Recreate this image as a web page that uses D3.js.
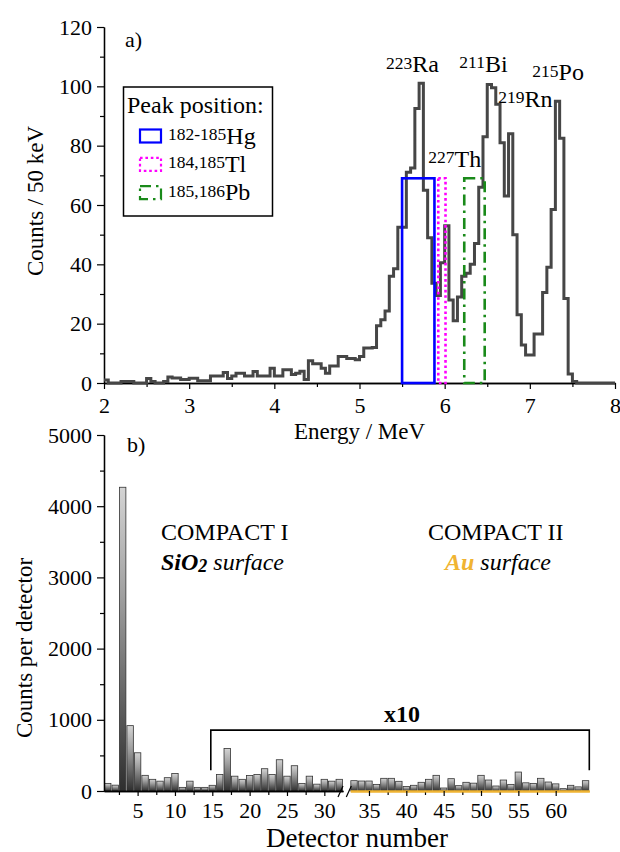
<!DOCTYPE html>
<html>
<head>
<meta charset="utf-8">
<script src="https://cdn.jsdelivr.net/npm/d3@7"></script>
<style>
  body { margin: 0; background: #fff; }
  svg { font-family: "Liberation Serif", "Times New Roman", serif; }
</style>
</head>
<body>
<div id="chart"></div>
<script>
// ---------- data: panel a) alpha spectrum, 50 keV bins from 2 MeV ----------
const binStart = 2;
const binWidth = 0.05;
const spectrumCounts = [
  1, 0, 0, 0, 0.5, 0.5, 0.5, 0, 0, 0,
  1.5, 0.5, 0, 0, 0.5, 2, 1.7, 1.7, 1.2, 1.2,
  1.6, 1.6, 0.8, 0.8, 0.8, 2.4, 2.4, 2.4, 3.5, 1.5,
  2.4, 3.3, 3.3, 2.4, 2.4, 3.9, 2.4, 2.4, 2.4, 5,
  2.4, 2.4, 4.5, 4.5, 2.9, 3.3, 4, 1.2, 7.5, 6.5,
  6.5, 5, 3.3, 5.7, 5.7, 8.9, 8.9, 8.3, 8.3, 7.8,
  8.9, 11.8, 11.8, 12, 19.3, 21.3, 24.3, 36, 38.5, 52.5,
  52.5, 71, 72.5, 92.5, 101, 65, 49, 33.6, 29.5, 40.5,
  53, 28, 21, 29, 36, 37, 40, 47, 66, 83,
  100.6, 99.5, 94, 81, 63, 84, 50, 23, 12.8, 9.4,
  9.4, 16.5, 16.5, 30.5, 39, 58.5, 95, 82.5, 28.5, 3,
  0.5, 0, 0, 0, 0, 0, 0, 0, 0, 0
];

// peak position windows (MeV) and their height in counts
const windowNames = ["Hg", "Tl", "Pb"];
const windowMass = ["182-185", "184,185", "185,186"];
const windowLo = [5.5, 5.925, 6.23];
const windowHi = [5.88, 6.01, 6.47];
const windowTop = 69;

// peak labels: mass, element, anchor energy (MeV), anchor counts (baseline)
const peakMass = ["223", "211", "215", "219", "227"];
const peakElem = ["Ra", "Bi", "Po", "Rn", "Th"];
const peakE = [5.31, 6.172, 7.029, 6.63, 5.808];
const peakC = [104.8, 104.9, 102.1, 93.1, 72.9];

// axis ticks
const energyTicks = [2, 3, 4, 5, 6, 7, 8];
const energyMinor = [2.5, 3.5, 4.5, 5.5, 6.5, 7.5];
const countTicks = [0, 20, 40, 60, 80, 100, 120];
const countMinor = [10, 30, 50, 70, 90, 110];

// ---------- data: panel b) counts per detector (det. 15-64 shown x10) ----------
const detectorsI = d3.range(1, 33);
const countsI = [107, 82, 4266, 918, 537, 220, 164, 138, 187, 245, 51, 138, 51, 51, 80, 232,
                 598, 208, 164, 218, 232, 313, 232, 439, 208, 355, 107, 208, 96, 164, 138, 164];
const detectorsII = d3.range(33, 65);
const countsII = [145, 140, 140, 93, 178, 178, 136, 63, 80, 122, 164, 220, 42, 173, 75, 122,
                  110, 220, 154, 70, 154, 93, 266, 115, 107, 178, 126, 100, 33, 80, 58, 145];
const detTicksI = [5, 10, 15, 20, 25, 30];
const detMinorI = [2.5, 7.5, 12.5, 17.5, 22.5, 27.5];
const detTicksII = [35, 40, 45, 50, 55, 60];
const detMinorII = [37.5, 42.5, 47.5, 52.5, 57.5];
const perDetTicks = [0, 1000, 2000, 3000, 4000, 5000];
const perDetMinor = [500, 1500, 2500, 3500, 4500];
const scaledFrom = 14.8, scaledTo = 64.5;   // "x10" bracket span (detector units)
const bracketLevel = 855, bracketFoot = 290;

const FONT = "'Liberation Serif', 'Times New Roman', serif";
const GOLD = "#f0b432";
const fmt = d3.format("d");

const svg = d3.select("#chart").append("svg")
  .attr("width", 620)
  .attr("height", 852);

function styleAxis(g, size) {
  g.attr("font-family", FONT).attr("font-size", size);
  g.selectAll("path.domain").attr("stroke", "#000").attr("stroke-width", 1.3);
  g.selectAll(".tick line").attr("stroke", "#000").attr("stroke-width", 1.2);
  g.selectAll(".tick text").attr("fill", "#000");
}

// ================= panel a =================
const xE = d3.scaleLinear().domain([2, 8]).range([104, 615]);
const yC = d3.scaleLinear().domain([0, 120]).range([383, 27]);

const a = svg.append("g");

a.append("g").attr("transform", "translate(0,383)")
  .call(d3.axisBottom(xE).tickValues(energyMinor).tickSize(4).tickFormat("").tickSizeOuter(0))
  .call(g => styleAxis(g, 22));
a.append("g").attr("transform", "translate(0,383)")
  .call(d3.axisBottom(xE).tickValues(energyTicks).tickFormat(fmt).tickSize(6).tickPadding(8).tickSizeOuter(0))
  .call(g => styleAxis(g, 22));
a.append("g").attr("transform", "translate(104,0)")
  .call(d3.axisLeft(yC).tickValues(countMinor).tickSize(4).tickFormat("").tickSizeOuter(0))
  .call(g => styleAxis(g, 22));
a.append("g").attr("transform", "translate(104,0)")
  .call(d3.axisLeft(yC).tickValues(countTicks).tickFormat(fmt).tickSize(7).tickPadding(5).tickSizeOuter(0))
  .call(g => styleAxis(g, 22));

// histogram
const steps = spectrumCounts.map((c, i) => ({ e: binStart + i * binWidth, c }));
steps.push({ e: binStart + spectrumCounts.length * binWidth, c: spectrumCounts[spectrumCounts.length - 1] });
const stepLine = d3.line().curve(d3.curveStepAfter).x(d => xE(d.e)).y(d => yC(d.c));
a.append("path")
  .attr("d", stepLine(steps))
  .attr("fill", "none")
  .attr("stroke", "#464646")
  .attr("stroke-width", 3)
  .attr("stroke-linejoin", "miter");

// peak position windows
const winStyle = [
  { stroke: "#0000ff", dash: null },
  { stroke: "#ff00ff", dash: "2.6,2.8" },
  { stroke: "#1a8a1a", dash: "11,5,2.5,5" }
];
windowNames.forEach((n, i) => {
  a.append("rect")
    .attr("x", xE(windowLo[i]))
    .attr("y", yC(windowTop))
    .attr("width", xE(windowHi[i]) - xE(windowLo[i]))
    .attr("height", yC(0) - yC(windowTop))
    .attr("fill", "none")
    .attr("stroke", winStyle[i].stroke)
    .attr("stroke-width", 2.6)
    .attr("stroke-dasharray", winStyle[i].dash);
});

// peak labels
peakMass.forEach((m, i) => {
  const t = a.append("text")
    .attr("x", xE(peakE[i]))
    .attr("y", yC(peakC[i]))
    .attr("font-size", 24);
  t.append("tspan").attr("font-size", 17.5).attr("dy", -3.5).text(m);
  t.append("tspan").attr("dy", 3.5).text(peakElem[i]);
});

a.append("text").attr("x", 125).attr("y", 47).attr("font-size", 22).text("a)");

// axis titles
a.append("text")
  .attr("x", (xE(2) + xE(8)) / 2).attr("y", 439)
  .attr("text-anchor", "middle").attr("font-size", 23)
  .text("Energy / MeV");
a.append("text")
  .attr("transform", "translate(43,201) rotate(-90)")
  .attr("text-anchor", "middle").attr("font-size", 23)
  .text("Counts / 50 keV");

// legend
const leg = a.append("g");
leg.append("rect")
  .attr("x", 123.5).attr("y", 87).attr("width", 149).attr("height", 129)
  .attr("fill", "#fff").attr("stroke", "#000").attr("stroke-width", 1.5);
leg.append("text").attr("x", 127).attr("y", 113).attr("font-size", 24).text("Peak position:");
windowNames.forEach((n, i) => {
  const by = 143.5 + i * 28.3;
  leg.append("rect")
    .attr("x", 140).attr("y", by - 14).attr("width", 21).attr("height", 13)
    .attr("fill", "none")
    .attr("stroke", winStyle[i].stroke)
    .attr("stroke-width", 2.2)
    .attr("stroke-dasharray", winStyle[i].dash);
  const t = leg.append("text").attr("x", 168).attr("y", by).attr("font-size", 24);
  t.append("tspan").attr("font-size", 17.5).attr("dy", -3.5).text(windowMass[i]);
  t.append("tspan").attr("dy", 3.5).text(n);
});

// ================= panel b =================
const yD = d3.scaleLinear().domain([0, 5000]).range([791, 435]);
const xI = d3.scaleLinear().domain([0.5, 32.5]).range([104, 343]);
const xII = d3.scaleLinear().domain([32.5, 64.5]).range([350.3, 589.3]);
const slot = xI(1.5) - xI(0.5);
const barW = slot * 0.86;

const b = svg.append("g");

const defs = svg.append("defs");
const grad = defs.append("linearGradient")
  .attr("id", "barGrad").attr("x1", 0).attr("y1", 0).attr("x2", 0).attr("y2", 1);
grad.append("stop").attr("offset", "0%").attr("stop-color", "#d4d4d4");
grad.append("stop").attr("offset", "35%").attr("stop-color", "#a0a0a0");
grad.append("stop").attr("offset", "100%").attr("stop-color", "#2e2e2e");

function drawBars(dets, vals, x) {
  b.append("g").selectAll("rect")
    .data(dets.map((d, i) => ({ d, v: vals[i] })))
    .join("rect")
      .attr("x", d => x(d.d) - barW / 2)
      .attr("y", d => yD(d.v))
      .attr("width", barW)
      .attr("height", d => yD(0) - yD(d.v))
      .attr("fill", "url(#barGrad)")
      .attr("stroke", "#333")
      .attr("stroke-width", 0.8);
}
drawBars(detectorsI, countsI, xI);
drawBars(detectorsII, countsII, xII);

// axes
b.append("g").attr("transform", "translate(0,791)")
  .call(d3.axisBottom(xI).tickValues(detMinorI).tickSize(4).tickFormat("").tickSizeOuter(0))
  .call(g => styleAxis(g, 22));
b.append("g").attr("transform", "translate(0,791)")
  .call(d3.axisBottom(xI).tickValues(detTicksI).tickFormat(fmt).tickSize(5).tickPadding(6).tickSizeOuter(0))
  .call(g => styleAxis(g, 22));
b.append("g").attr("transform", "translate(0,791)")
  .call(d3.axisBottom(xII).tickValues(detMinorII).tickSize(4).tickFormat("").tickSizeOuter(0))
  .call(g => styleAxis(g, 22))
  .call(g => g.select("path.domain").attr("stroke", GOLD).attr("stroke-width", 2.2));
b.append("g").attr("transform", "translate(0,791)")
  .call(d3.axisBottom(xII).tickValues(detTicksII).tickFormat(fmt).tickSize(5).tickPadding(6).tickSizeOuter(0))
  .call(g => styleAxis(g, 22))
  .call(g => g.select("path.domain").attr("stroke", GOLD).attr("stroke-width", 2.2));
b.append("g").attr("transform", "translate(104,0)")
  .call(d3.axisLeft(yD).tickValues(perDetMinor).tickSize(4).tickFormat("").tickSizeOuter(0))
  .call(g => styleAxis(g, 22));
b.append("g").attr("transform", "translate(104,0)")
  .call(d3.axisLeft(yD).tickValues(perDetTicks).tickFormat(fmt).tickSize(7).tickPadding(5).tickSizeOuter(0))
  .call(g => styleAxis(g, 22));

// axis break marks
[xI(32.5) - 5, xII(32.5) - 4].forEach(x0 => {
  b.append("line")
    .attr("x1", x0).attr("y1", 797).attr("x2", x0 + 5).attr("y2", 786)
    .attr("stroke", "#000").attr("stroke-width", 1.2);
});

// x10 bracket
const bx0 = xI(scaledFrom), bx1 = xII(scaledTo);
b.append("path")
  .attr("d", `M${bx0},${yD(bracketFoot)}V${yD(bracketLevel)}H${bx1}V${yD(bracketFoot)}`)
  .attr("fill", "none").attr("stroke", "#000").attr("stroke-width", 1.6);
b.append("text")
  .attr("x", (bx0 + bx1) / 2 + 2).attr("y", yD(bracketLevel) - 8)
  .attr("text-anchor", "middle").attr("font-size", 24).attr("font-weight", "bold")
  .text("x10");

// annotations
b.append("text").attr("x", 127).attr("y", 452).attr("font-size", 22).text("b)");
b.append("text").attr("x", 161).attr("y", 540).attr("font-size", 24).text("COMPACT I");
const s1 = b.append("text").attr("x", 161).attr("y", 570).attr("font-size", 24).attr("font-style", "italic");
s1.append("tspan").attr("font-weight", "bold").text("SiO");
s1.append("tspan").attr("font-weight", "bold").attr("font-size", 18).attr("dy", 2).text("2");
s1.append("tspan").attr("dy", -2).text(" surface");
b.append("text").attr("x", 428).attr("y", 540).attr("font-size", 24).text("COMPACT II");
const s2 = b.append("text").attr("x", 445).attr("y", 570).attr("font-size", 24).attr("font-style", "italic");
s2.append("tspan").attr("font-weight", "bold").attr("fill", GOLD).text("Au");
s2.append("tspan").text(" surface");

b.append("text")
  .attr("x", 357).attr("y", 847)
  .attr("text-anchor", "middle").attr("font-size", 27)
  .text("Detector number");
b.append("text")
  .attr("transform", "translate(32,648) rotate(-90)")
  .attr("text-anchor", "middle").attr("font-size", 23)
  .text("Counts per detector");
</script>
</body>
</html>
